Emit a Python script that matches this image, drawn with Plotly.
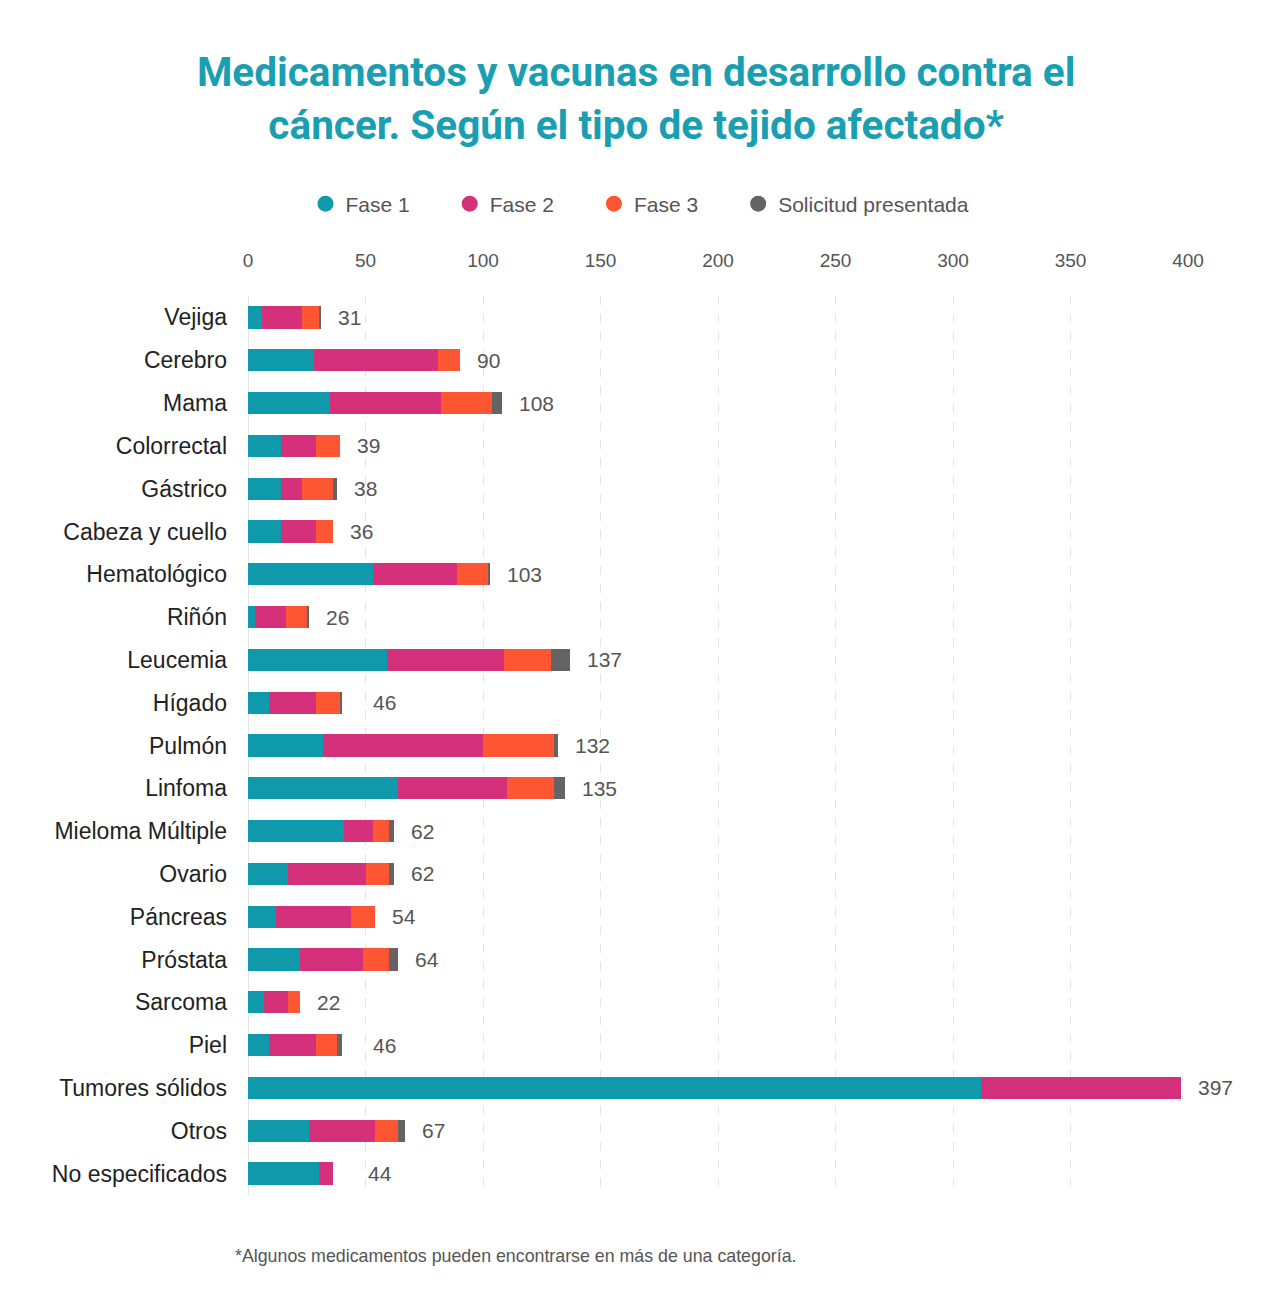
import plotly.graph_objects as go

categories = ["Vejiga", "Cerebro", "Mama", "Colorrectal", "Gástrico", "Cabeza y cuello",
              "Hematológico", "Riñón", "Leucemia", "Hígado", "Pulmón", "Linfoma",
              "Mieloma Múltiple", "Ovario", "Páncreas", "Próstata", "Sarcoma", "Piel",
              "Tumores sólidos", "Otros", "No especificados"]
fase1 = [6, 28, 35, 14, 14, 14, 53, 3, 59, 9, 32, 64, 41, 17, 12, 22, 7, 9, 312, 26, 30]
fase2 = [17, 53, 47, 15, 9, 15, 36, 13, 50, 20, 68, 46, 12, 33, 32, 27, 10, 20, 85, 28, 6]
fase3 = [7, 9, 22, 10, 13, 7, 13, 9, 20, 10, 30, 20, 7, 10, 10, 11, 5, 9, 0, 10, 0]
solicitud = [1, 0, 4, 0, 2, 0, 1, 1, 8, 1, 2, 5, 2, 2, 0, 4, 0, 2, 0, 3, 0]
totals = [31, 90, 108, 39, 38, 36, 103, 26, 137, 46, 132, 135, 62, 62, 54, 64, 22, 46, 397, 67, 44]

series_names = ["Fase 1", "Fase 2", "Fase 3", "Solicitud presentada"]
colors = ["#0f9aab", "#d4317a", "#fe5533", "#646464"]
x_ticks = [0, 50, 100, 150, 200, 250, 300, 350, 400]

PAD = "\u00a0" * 6

fig = go.Figure()
for i, (name, vals, col) in enumerate(zip(series_names, [fase1, fase2, fase3, solicitud], colors)):
    fig.add_trace(go.Bar(
        y=categories, x=vals, orientation="h", name=name,
        marker=dict(color=col, line=dict(width=0)),
        width=0.52, showlegend=False, hoverinfo="x+name"))
    fig.add_trace(go.Scatter(
        x=[None], y=[None], mode="markers",
        name=name + (PAD if i < len(series_names) - 1 else ""),
        marker=dict(color=col, size=24, symbol="circle")))

for cat, tot in zip(categories, totals):
    fig.add_annotation(x=tot, y=cat, text=str(tot), showarrow=False,
                       xanchor="left", xshift=15,
                       font=dict(size=21, color="#555555", family="Liberation Sans"))

fig.add_annotation(text="*Algunos medicamentos pueden encontrarse en más de una categoría.",
                   xref="paper", yref="paper", x=-0.016, y=-0.068,
                   xanchor="left", yanchor="middle", showarrow=False,
                   font=dict(size=17.8, color="#555555", family="Liberation Sans"))

fig.update_layout(
    width=1280, height=1314,
    paper_bgcolor="white", plot_bgcolor="white",
    barmode="stack",
    margin=dict(l=248, r=92, t=296, b=119),
    title=dict(
        text="Medicamentos y vacunas en desarrollo contra el<br>cáncer. Según el tipo de tejido afectado*",
        x=0.497, xref="container", xanchor="center",
        y=1 - 86 / 1314, yref="container", yanchor="middle",
        font=dict(size=40.5, color="#1a9fb2", family="Roboto", weight="bold")),
    legend=dict(orientation="h", xref="container", x=0.5, xanchor="center",
                yref="container", y=1 - 204 / 1314, yanchor="middle",
                font=dict(size=21, color="#555555", family="Liberation Sans"),
                itemsizing="trace", itemwidth=30, traceorder="normal"),
    xaxis=dict(side="top", range=[0, 400], tickvals=x_ticks,
               showgrid=True, gridcolor="#e4e4e4", griddash="dash", gridwidth=1,
               zeroline=True, zerolinecolor="#e4e4e4", zerolinewidth=1,
               tickfont=dict(size=19, color="#555555", family="Liberation Sans"),
               ticks="", ticklabelstandoff=24, fixedrange=True),
    yaxis=dict(autorange="reversed", categoryorder="array", categoryarray=categories,
               tickfont=dict(size=23, color="#222222", family="Liberation Sans"),
               ticks="", ticklabelstandoff=20, showgrid=False, fixedrange=True),
    font=dict(family="Liberation Sans"),
)

fig.write_html("out.html")
